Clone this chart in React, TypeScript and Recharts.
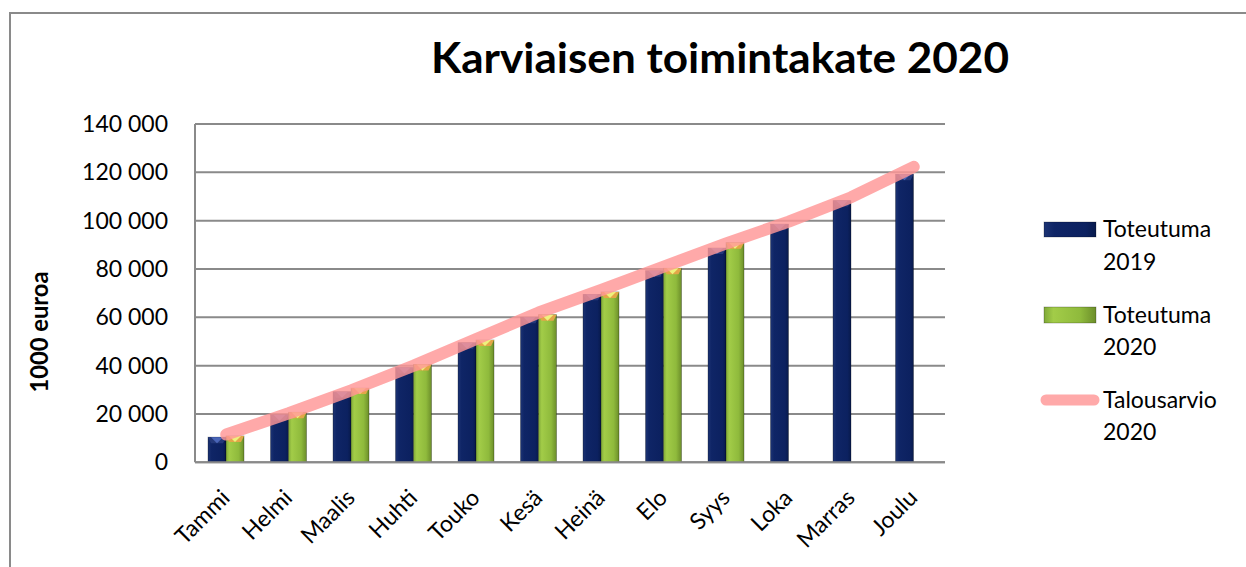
import React from 'react';
import { ComposedChart, Bar, Line, XAxis, YAxis, CartesianGrid } from 'recharts';

const months = ['Tammi', 'Helmi', 'Maalis', 'Huhti', 'Touko', 'Kesä', 'Heinä', 'Elo', 'Syys', 'Loka', 'Marras', 'Joulu'];
const toteutuma2019 = [10400, 19700, 29200, 39200, 49500, 60000, 69500, 79300, 88700, 98600, 108300, 119200];
const toteutuma2020 = [10900, 20700, 30700, 40500, 50600, 61100, 70500, 80300, 90900, null, null, null];
const talousarvio2020 = [11500, 20300, 29800, 40000, 51000, 62000, 71300, 81000, 90600, 99600, 109700, 122300];
const yTicks = [0, 20000, 40000, 60000, 80000, 100000, 120000, 140000];
const seriesNames = ['Toteutuma 2019', 'Toteutuma 2020', 'Talousarvio 2020'];
const titleText = 'Karviaisen toimintakate 2020';
const yTitle = '1000 euroa';

const data = months.map((m, i) => ({
  month: m,
  t2019: toteutuma2019[i],
  t2020: toteutuma2020[i],
  budget: talousarvio2020[i],
}));

const FONT = 'Lato, "Open Sans", sans-serif';

const fmt = (v: number) => String(v).replace(/\B(?=(\d{3})+(?!\d))/g, ' ');

const makeShape = (fillId: string, band: string, tri: string) => (props: any) => {
  const { x, y, width, height } = props;
  if (height == null || height <= 0 || width == null) return null;
  const b = Math.min(6, height);
  return (
    <g>
      <rect x={x} y={y} width={width} height={height} fill={`url(#${fillId})`} stroke="rgba(0,0,0,0.35)" strokeWidth={0.8} />
      <polygon points={`${x},${y} ${x + width},${y} ${x + width - 3},${y + b} ${x + 3},${y + b}`} fill={band} />
      <polygon points={`${x + 3},${y} ${x + width - 3},${y} ${x + width / 2},${y + b}`} fill={tri} />
    </g>
  );
};

const NavyShape = makeShape('gNavy', '#24397a', '#4a66b8');
const GreenShape = makeShape('gGreen', '#e3a648', '#eef27c');

const XTick = (props: any) => {
  const { x, y, payload } = props;
  const ax = x + 5;
  const ay = y + 37;
  return (
    <text x={ax} y={ay} transform={`rotate(-45, ${ax}, ${ay})`} textAnchor="end" fontFamily={FONT} fontSize={23} fill="#000">
      {payload.value}
    </text>
  );
};

export default function App() {
  return (
    <div style={{ position: 'absolute', left: 0, top: 0, width: 1246, height: 567, overflow: 'hidden', background: '#fff' }}>
      <svg width={0} height={0} style={{ position: 'absolute' }}>
        <defs>
          <linearGradient id="gNavy" x1="0" y1="0" x2="1" y2="0">
            <stop offset="0%" stopColor="#1c3373" />
            <stop offset="20%" stopColor="#0f2566" />
            <stop offset="80%" stopColor="#0c2160" />
            <stop offset="100%" stopColor="#081a4c" />
          </linearGradient>
          <linearGradient id="gGreen" x1="0" y1="0" x2="1" y2="0">
            <stop offset="0%" stopColor="#7fa838" />
            <stop offset="18%" stopColor="#a2cc48" />
            <stop offset="70%" stopColor="#8fba3c" />
            <stop offset="100%" stopColor="#6c8e2a" />
          </linearGradient>
        </defs>
      </svg>
      <div style={{ position: 'absolute', left: 9, top: 12, width: 1400, height: 700, border: '2px solid #8a8a8a' }} />
      <div style={{ position: 'absolute', left: 0, top: 0 }}>
        <ComposedChart width={1246} height={567} data={data} margin={{ top: 124, right: 301, bottom: 0, left: 0 }} barGap={0}>
          <CartesianGrid horizontal vertical={false} stroke="#8a8a8a" strokeWidth={2} />
          <XAxis
            dataKey="month"
            height={104.7}
            tick={<XTick />}
            tickLine={false}
            tickSize={0}
            tickMargin={0}
            interval={0}
            axisLine={{ stroke: '#8a8a8a', strokeWidth: 2 }}
          />
          <YAxis
            width={195}
            domain={[0, 140000]}
            ticks={yTicks}
            tickFormatter={fmt}
            tickLine={false}
            tickSize={0}
            tickMargin={27}
            interval={0}
            axisLine={{ stroke: '#8a8a8a', strokeWidth: 2 }}
            tick={{ fontFamily: FONT, fontSize: 23, fill: '#000' }}
          />
          <Bar dataKey="t2019" name={seriesNames[0]} barSize={18} shape={<NavyShape />} isAnimationActive={false} />
          <Bar dataKey="t2020" name={seriesNames[1]} barSize={18} shape={<GreenShape />} isAnimationActive={false} />
          <Line
            dataKey="budget"
            name={seriesNames[2]}
            type="linear"
            stroke="#ff9696"
            strokeOpacity={0.82}
            strokeWidth={12}
            strokeLinecap="round"
            strokeLinejoin="round"
            dot={false}
            activeDot={false}
            isAnimationActive={false}
          />
        </ComposedChart>
      </div>
      <svg width={1246} height={567} style={{ position: 'absolute', left: 0, top: 0, pointerEvents: 'none' }}>
        <text x={720} y={73} textAnchor="middle" fontFamily={FONT} fontWeight={700} fontSize={42} fill="#000" textLength={578} lengthAdjust="spacingAndGlyphs">
          {titleText}
        </text>
        <text x={48} y={332} transform="rotate(-90, 48, 332)" textAnchor="middle" fontFamily={FONT} fontWeight={700} fontSize={24} fill="#000" textLength={121} lengthAdjust="spacingAndGlyphs">
          {yTitle}
        </text>
        <rect x={1044} y={222} width={52} height={15} fill="url(#gNavy)" stroke="rgba(0,0,0,0.3)" strokeWidth={0.8} />
        <rect x={1044} y={307} width={52} height={16} fill="url(#gGreen)" stroke="rgba(0,0,0,0.3)" strokeWidth={0.8} />
        <line x1={1046} y1={400} x2={1094} y2={400} stroke="#ff9696" strokeOpacity={0.82} strokeWidth={11} strokeLinecap="round" />
        <g fontFamily={FONT} fontSize={23} fill="#000">
          <text x={1103} y={237}>Toteutuma</text>
          <text x={1103} y={270}>2019</text>
          <text x={1103} y={323}>Toteutuma</text>
          <text x={1103} y={355}>2020</text>
          <text x={1103} y={408}>Talousarvio</text>
          <text x={1103} y={440}>2020</text>
        </g>
      </svg>
    </div>
  );
}
